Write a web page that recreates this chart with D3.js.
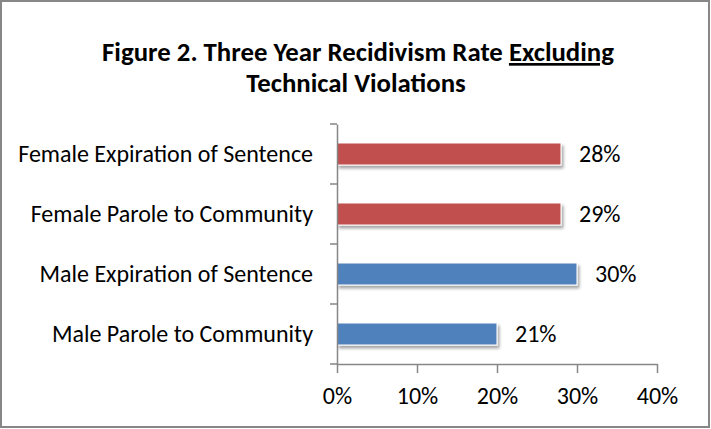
<!DOCTYPE html>
<html><head><meta charset="utf-8">
<script src="https://cdn.jsdelivr.net/npm/d3@7"></script>
<style>
html,body{margin:0;padding:0;background:#fff;}
svg{display:block;font-family:Carlito,Calibri,Lato,"Open Sans",sans-serif;}
</style></head>
<body>
<script>
const categories = ["Female Expiration of Sentence","Female Parole to Community","Male Expiration of Sentence","Male Parole to Community"];
const barValues = [28, 28, 30, 20];
const valueLabels = ["28%","29%","30%","21%"];
const groups = ["Female","Female","Male","Male"];
const xTicks = [0,10,20,30,40];
const titleLine1 = "Figure 2. Three Year Recidivism Rate ";
const titleUnderlined = "Excluding";
const titleLine2 = "Technical Violations";

const W = 711, H = 429;
const FONT = "Carlito,Calibri,Lato,'Open Sans',sans-serif";
const colors = {Female:"#C0504D", Male:"#4F81BD"};
const svg = d3.select("body").append("svg").attr("width",W).attr("height",H);

const defs = svg.append("defs");
const f = defs.append("filter").attr("id","sh").attr("x","-10%").attr("y","-30%").attr("width","130%").attr("height","200%");
f.append("feGaussianBlur").attr("in","SourceAlpha").attr("stdDeviation",1.6);
f.append("feOffset").attr("dx",2).attr("dy",3).attr("result","ob");
f.append("feComponentTransfer").append("feFuncA").attr("type","linear").attr("slope",0.35);
const m = f.append("feMerge"); m.append("feMergeNode"); m.append("feMergeNode").attr("in","SourceGraphic");

svg.append("rect").attr("x",1).attr("y",1).attr("width",W-3).attr("height",H-3)
  .attr("fill","#fff").attr("stroke","#878787").attr("stroke-width",2);

const t1 = svg.append("text").attr("x",358).attr("y",61).attr("text-anchor","middle")
  .attr("font-weight","bold").attr("font-size",26.8).attr("fill","#000").attr("font-family",FONT);
t1.append("tspan").text(titleLine1);
t1.append("tspan").style("text-decoration","underline").text(titleUnderlined);
svg.append("text").attr("x",356).attr("y",92).attr("text-anchor","middle").attr("font-family",FONT)
  .attr("font-weight","bold").attr("font-size",26.8).attr("fill","#000").text(titleLine2);

const x = d3.scaleLinear().domain([0,40]).range([337,657]);
const y = d3.scaleBand().domain(categories).range([124,364]).paddingInner(0.633).paddingOuter(0.3165);

// bars
svg.append("g").selectAll("rect").data(categories).join("rect")
  .attr("x",x(0)).attr("y",d=>y(d))
  .attr("width",(d,i)=>x(barValues[i])-x(0)).attr("height",y.bandwidth())
  .attr("fill",(d,i)=>colors[groups[i]])
  .attr("stroke","#fff").attr("stroke-width",1)
  .attr("filter","url(#sh)");

// value labels
svg.append("g").selectAll("text").data(categories).join("text")
  .attr("x",(d,i)=>x(barValues[i])+18).attr("y",d=>y(d)+y.bandwidth()/2)
  .attr("dy","0.35em").attr("font-size",24).attr("fill","#000").attr("font-family",FONT)
  .text((d,i)=>valueLabels[i]);

// y axis
const yAxis = d3.axisLeft(y).tickSize(0).tickPadding(24);
const gy = svg.append("g").attr("transform",`translate(${x(0)},0)`).call(yAxis)
  .attr("font-family",FONT);
gy.select(".domain").attr("stroke","#868686").attr("stroke-width",1.5);
gy.selectAll("text").attr("font-size",24).attr("fill","#000");
svg.append("g").selectAll("line").data([124,184,244,304,364]).join("line")
  .attr("x1",x(0)-7).attr("x2",x(0)).attr("y1",d=>d).attr("y2",d=>d)
  .attr("stroke","#868686").attr("stroke-width",1.5);

// x axis
const xAxis = d3.axisBottom(x).tickValues(xTicks).tickFormat(d=>d+"%").tickSize(9).tickSizeOuter(0).tickPadding(14);
const gx = svg.append("g").attr("transform","translate(0,364)").call(xAxis).attr("font-family",FONT);
gx.select(".domain").attr("stroke","#868686").attr("stroke-width",1.5);
gx.selectAll(".tick line").attr("stroke","#868686").attr("stroke-width",1.5);
gx.selectAll("text").attr("font-size",24).attr("fill","#000");
</script>
</body></html>
